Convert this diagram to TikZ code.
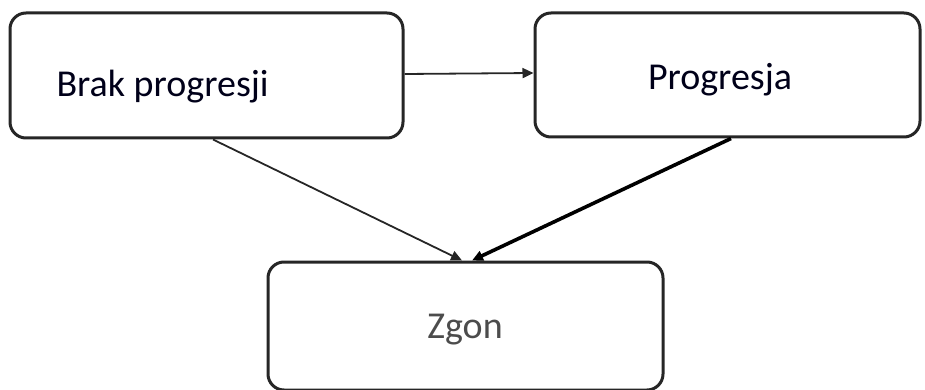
\documentclass[tikz,border=0pt]{standalone}
\usepackage{fontspec}
\setmainfont{Carlito}
\usetikzlibrary{arrows.meta,calc}
\begin{document}
\begin{tikzpicture}[x=1pt,y=-1pt,
  box/.style={draw=black!85, line width=3pt, rounded corners=16pt, inner sep=0pt},
  lbl/.style={font=\fontsize{38}{46}\selectfont, text=black!90!blue},
  conn/.style={draw=black!85, line width=1.8pt, -{Triangle[length=11pt,width=10pt]}},
  thickconn/.style={draw=black, line width=3.6pt, -{Triangle[length=11pt,width=10pt]}}]
\useasboundingbox (0,0) rectangle (925,390);
\node[box, minimum width=393pt, minimum height=125pt] (a) at (206.5,75.5) {};
\node[box, minimum width=385pt, minimum height=124pt] (b) at (727.5,75) {};
\node[box, minimum width=395pt, minimum height=128pt] (c) at (465.5,326) {};
\node[lbl, anchor=base west] (ta) at (53,97) {Brak progresji};
\node[lbl, anchor=base] (tb) at (720,90) {Progresja};
\node[lbl, anchor=base, text=black!70] (tc) at (465,338) {Zgon};
\draw[conn] ($(a.east)+(0,-1.5)$) -- ($(b.west)+(0,-2)$);
\draw[conn] ($(a.south)+(6.5,0)$) -- ($(c.north)+(-3.5,0)$);
\draw[thickconn] ($(b.south)+(3.5,0)$) -- ($(c.north)+(6.5,0)$);
\end{tikzpicture}
\end{document}
